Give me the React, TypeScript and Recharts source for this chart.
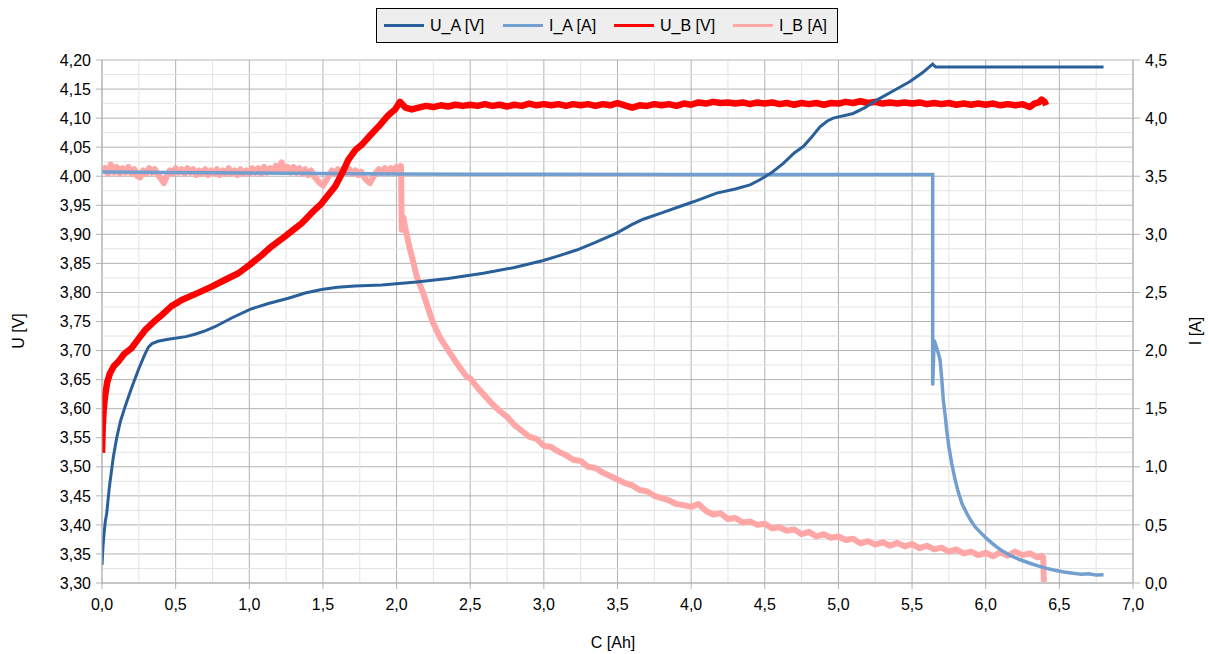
import { LineChart, Line, XAxis, YAxis, CartesianGrid, ReferenceLine } from 'recharts';

document.body.style.margin = '0';

// ticks
const cTicks = [0, 0.5, 1, 1.5, 2, 2.5, 3, 3.5, 4, 4.5, 5, 5.5, 6, 6.5, 7];
const uTicks = [3.3, 3.35, 3.4, 3.45, 3.5, 3.55, 3.6, 3.65, 3.7, 3.75, 3.8, 3.85, 3.9, 3.95, 4.0, 4.05, 4.1, 4.15, 4.2];
const iTicks = [0, 0.5, 1, 1.5, 2, 2.5, 3, 3.5, 4, 4.5];

// minor grid sits halfway between major ticks
const halves = (t: number[]) => t.slice(1).map((v, i) => (v + t[i]) / 2);
const cMinor = halves(cTicks);
const uMinor = halves(uTicks);

// U_A [V] : [C Ah, U V]
const uA: [number, number][] = [
  [0, 3.331], [0.006, 3.36], [0.014, 3.385], [0.022, 3.405], [0.032, 3.42], [0.05, 3.465], [0.077, 3.517],
  [0.1, 3.55], [0.125, 3.578], [0.156, 3.603], [0.2, 3.635], [0.247, 3.667], [0.29, 3.693], [0.315, 3.706],
  [0.34, 3.712], [0.38, 3.716], [0.44, 3.719], [0.496, 3.721], [0.57, 3.724], [0.631, 3.728], [0.7, 3.734],
  [0.767, 3.741], [0.88, 3.756], [1.005, 3.771], [1.13, 3.781], [1.265, 3.79], [1.38, 3.799], [1.49, 3.805],
  [1.6, 3.809], [1.718, 3.811], [1.9, 3.813], [2.136, 3.818], [2.35, 3.824], [2.589, 3.833], [2.8, 3.843],
  [2.996, 3.855], [3.1, 3.863], [3.223, 3.873], [3.35, 3.886], [3.494, 3.902], [3.6, 3.917], [3.675, 3.926],
  [3.8, 3.937], [3.947, 3.95], [4.015, 3.956], [4.173, 3.971], [4.3, 3.978], [4.4, 3.985], [4.467, 3.994],
  [4.55, 4.007], [4.626, 4.022], [4.7, 4.04], [4.761, 4.051], [4.82, 4.068], [4.875, 4.085], [4.925, 4.095],
  [4.965, 4.1], [5.1, 4.108], [5.18, 4.118], [5.26, 4.131], [5.38, 4.148], [5.486, 4.163], [5.57, 4.178],
  [5.64, 4.193], [5.66, 4.188], [6.0, 4.188], [6.5, 4.188], [6.8, 4.188],
];

// I_A [A]
const iA: [number, number][] = [
  [0, 3.537], [0.5, 3.532], [1.0, 3.527], [1.5, 3.523], [2.0, 3.52], [2.5, 3.517], [3.0, 3.516], [4.0, 3.515],
  [5.0, 3.515], [5.64, 3.515], [5.64, 1.7], [5.65, 2.09], [5.66, 2.05], [5.675, 1.99], [5.69, 1.92],
  [5.7, 1.78], [5.712, 1.575], [5.725, 1.44], [5.735, 1.317], [5.75, 1.17], [5.769, 1.03], [5.79, 0.9],
  [5.814, 0.78], [5.84, 0.68], [5.871, 0.6], [5.9, 0.535], [5.93, 0.48], [5.961, 0.44], [6.0, 0.39],
  [6.04, 0.345], [6.074, 0.31], [6.12, 0.27], [6.17, 0.235], [6.233, 0.2], [6.3, 0.17], [6.36, 0.145],
  [6.414, 0.126], [6.47, 0.11], [6.53, 0.095], [6.594, 0.083], [6.65, 0.076], [6.7, 0.08], [6.75, 0.068],
  [6.8, 0.07],
];

// U_B [V]
const uB: [number, number][] = [
  [0, 3.524], [0.005, 3.57], [0.012, 3.6], [0.02, 3.62], [0.035, 3.645], [0.054, 3.661], [0.08, 3.673],
  [0.111, 3.681], [0.15, 3.694], [0.2, 3.704], [0.25, 3.721], [0.292, 3.735], [0.35, 3.749], [0.405, 3.761],
  [0.47, 3.776], [0.541, 3.787], [0.64, 3.798], [0.745, 3.81], [0.83, 3.821], [0.926, 3.833], [1.0, 3.847],
  [1.084, 3.864], [1.15, 3.879], [1.22, 3.892], [1.29, 3.906], [1.356, 3.919], [1.42, 3.936], [1.49, 3.953],
  [1.54, 3.969], [1.582, 3.982], [1.63, 4.005], [1.672, 4.028], [1.72, 4.045], [1.763, 4.054], [1.82, 4.07],
  [1.876, 4.085], [1.944, 4.105], [1.99, 4.115], [2.023, 4.128], [2.06, 4.118], [2.103, 4.115],
  [2.15, 4.118], [2.2, 4.121], [2.25, 4.119], [2.3, 4.122], [2.35, 4.12], [2.4, 4.123], [2.45, 4.121],
  [2.5, 4.123], [2.55, 4.121], [2.6, 4.124], [2.65, 4.121], [2.7, 4.123], [2.75, 4.12], [2.8, 4.123],
  [2.85, 4.121], [2.9, 4.125], [2.95, 4.122], [3.0, 4.124], [3.05, 4.122], [3.1, 4.124], [3.15, 4.121],
  [3.2, 4.124], [3.25, 4.122], [3.3, 4.124], [3.35, 4.121], [3.4, 4.124], [3.45, 4.122], [3.5, 4.126],
  [3.55, 4.122], [3.6, 4.118], [3.65, 4.122], [3.7, 4.121], [3.75, 4.124], [3.8, 4.122], [3.85, 4.124],
  [3.9, 4.121], [3.95, 4.125], [4.0, 4.123], [4.05, 4.127], [4.1, 4.125], [4.15, 4.128], [4.2, 4.126],
  [4.25, 4.127], [4.3, 4.125], [4.35, 4.127], [4.4, 4.124], [4.45, 4.127], [4.5, 4.125], [4.55, 4.127],
  [4.6, 4.124], [4.65, 4.126], [4.7, 4.123], [4.75, 4.126], [4.8, 4.124], [4.85, 4.126], [4.9, 4.123],
  [4.95, 4.126], [5.0, 4.125], [5.05, 4.128], [5.1, 4.126], [5.15, 4.129], [5.2, 4.126], [5.25, 4.128],
  [5.3, 4.125], [5.35, 4.127], [5.4, 4.125], [5.45, 4.127], [5.5, 4.125], [5.55, 4.127], [5.6, 4.124],
  [5.65, 4.126], [5.7, 4.124], [5.75, 4.126], [5.8, 4.123], [5.85, 4.125], [5.9, 4.123], [5.95, 4.125],
  [6.0, 4.123], [6.05, 4.125], [6.1, 4.122], [6.15, 4.124], [6.2, 4.122], [6.25, 4.124], [6.3, 4.119],
  [6.33, 4.125], [6.36, 4.127], [6.38, 4.132], [6.4, 4.128], [6.41, 4.122],
];

// I_B [A]
const iB: [number, number][] = [
  [0, 3.54], [0.02, 3.57], [0.04, 3.52], [0.06, 3.6], [0.08, 3.53], [0.1, 3.58], [0.12, 3.52], [0.14, 3.57],
  [0.16, 3.53], [0.18, 3.58], [0.2, 3.52], [0.22, 3.56], [0.24, 3.5], [0.26, 3.49], [0.28, 3.55], [0.3, 3.52],
  [0.32, 3.57], [0.34, 3.53], [0.36, 3.56], [0.38, 3.51], [0.4, 3.48], [0.42, 3.44], [0.44, 3.5], [0.46, 3.55],
  [0.48, 3.52], [0.5, 3.57], [0.52, 3.53], [0.54, 3.56], [0.56, 3.52], [0.58, 3.57], [0.6, 3.53], [0.62, 3.56],
  [0.64, 3.51], [0.66, 3.55], [0.68, 3.52], [0.7, 3.56], [0.72, 3.51], [0.74, 3.55], [0.76, 3.52], [0.78, 3.56],
  [0.8, 3.51], [0.82, 3.55], [0.84, 3.52], [0.86, 3.57], [0.88, 3.52], [0.9, 3.55], [0.92, 3.51], [0.94, 3.56],
  [0.96, 3.52], [0.98, 3.55], [1.0, 3.52], [1.02, 3.57], [1.04, 3.53], [1.06, 3.57], [1.08, 3.52], [1.1, 3.58],
  [1.12, 3.53], [1.14, 3.57], [1.16, 3.54], [1.18, 3.59], [1.2, 3.55], [1.22, 3.62], [1.24, 3.55], [1.26, 3.58],
  [1.28, 3.53], [1.3, 3.58], [1.32, 3.53], [1.34, 3.57], [1.36, 3.52], [1.38, 3.56], [1.4, 3.51], [1.42, 3.55],
  [1.44, 3.5], [1.46, 3.47], [1.48, 3.44], [1.5, 3.42], [1.52, 3.46], [1.54, 3.5], [1.56, 3.55], [1.58, 3.52],
  [1.6, 3.56], [1.62, 3.52], [1.64, 3.57], [1.66, 3.53], [1.68, 3.56], [1.7, 3.52], [1.72, 3.55], [1.74, 3.51],
  [1.76, 3.54], [1.78, 3.49], [1.8, 3.46], [1.82, 3.44], [1.84, 3.49], [1.86, 3.53], [1.88, 3.56], [1.9, 3.53],
  [1.92, 3.57], [1.94, 3.53], [1.96, 3.57], [1.98, 3.54], [2.0, 3.58], [2.02, 3.55], [2.03, 3.59],
  [2.035, 3.04], [2.045, 3.15], [2.06, 3.05], [2.075, 2.96], [2.091, 2.87], [2.11, 2.78], [2.136, 2.64],
  [2.16, 2.56], [2.182, 2.49], [2.215, 2.36], [2.249, 2.235], [2.3, 2.1], [2.363, 1.977], [2.42, 1.87],
  [2.476, 1.775], [2.5, 1.76], [2.55, 1.68], [2.6, 1.61], [2.65, 1.54], [2.7, 1.48], [2.75, 1.43], [2.8, 1.36],
  [2.85, 1.31], [2.9, 1.26], [2.95, 1.24], [3.0, 1.18], [3.05, 1.17], [3.1, 1.13], [3.15, 1.1], [3.2, 1.06],
  [3.25, 1.05], [3.3, 1.0], [3.35, 0.99], [3.4, 0.95], [3.45, 0.92], [3.5, 0.89], [3.55, 0.86], [3.6, 0.84],
  [3.65, 0.8], [3.7, 0.79], [3.75, 0.75], [3.8, 0.73], [3.85, 0.71], [3.9, 0.68], [3.95, 0.67], [4.0, 0.655],
  [4.05, 0.68], [4.1, 0.62], [4.15, 0.59], [4.2, 0.6], [4.25, 0.55], [4.3, 0.56], [4.35, 0.52], [4.4, 0.53],
  [4.45, 0.5], [4.5, 0.51], [4.55, 0.47], [4.6, 0.48], [4.65, 0.45], [4.7, 0.46], [4.75, 0.42], [4.8, 0.44],
  [4.85, 0.4], [4.9, 0.42], [4.95, 0.39], [5.0, 0.4], [5.05, 0.37], [5.1, 0.38], [5.15, 0.34], [5.2, 0.36],
  [5.25, 0.33], [5.3, 0.35], [5.35, 0.32], [5.4, 0.345], [5.45, 0.315], [5.5, 0.335], [5.55, 0.3], [5.6, 0.32],
  [5.65, 0.29], [5.7, 0.305], [5.75, 0.27], [5.8, 0.29], [5.85, 0.255], [5.9, 0.27], [5.95, 0.24], [6.0, 0.26],
  [6.05, 0.23], [6.1, 0.265], [6.15, 0.235], [6.2, 0.27], [6.25, 0.24], [6.3, 0.255], [6.35, 0.22],
  [6.38, 0.235], [6.39, 0.22], [6.395, 0.01],
];

const toRows = (pts: [number, number][]) => pts.map(([c, v]) => ({ c, v }));

const series = [
  { name: 'U_A [V]', color: '#2a6099' },
  { name: 'I_A [A]', color: '#729fcf' },
  { name: 'U_B [V]', color: '#ff0000' },
  { name: 'I_B [A]', color: '#ffa6a6' },
];

const font = '"Liberation Sans", Arial, sans-serif';
const fmt = (digits: number) => (v: number) => v.toFixed(digits).replace('.', ',');
const tickStyle = { fill: '#000', fontSize: 16, fontFamily: font };
const axisGray = '#b3b3b3';
const minorGray = '#e3e3e3';

function LegendBox() {
  const offsets = [7, 126, 237, 356];
  return (
    <div
      style={{
        position: 'absolute', left: 376, top: 8, width: 462, height: 35, boxSizing: 'border-box',
        border: '1px solid #000', background: '#eeeeee', fontFamily: font, fontSize: 16, color: '#000',
      }}
    >
      {series.map((s, i) => (
        <div key={s.name} style={{ position: 'absolute', left: offsets[i], top: 0, height: 33, display: 'flex', alignItems: 'center' }}>
          <div style={{ width: 40, height: 3, background: s.color, marginRight: 6 }} />
          <span>{s.name}</span>
        </div>
      ))}
    </div>
  );
}

export default function App() {
  return (
    <div style={{ position: 'relative', width: 1209, height: 654, background: '#fff' }}>
      <LineChart width={1209} height={654} margin={{ top: 60, right: 0, bottom: 0, left: 0 }}>
        {cMinor.map((v) => (
          <ReferenceLine key={`cx${v}`} x={v} xAxisId="c" yAxisId="u" stroke={minorGray} />
        ))}
        {uMinor.map((v) => (
          <ReferenceLine key={`uy${v}`} y={v} xAxisId="c" yAxisId="u" stroke={minorGray} />
        ))}
        <CartesianGrid xAxisId="c" yAxisId="u" stroke={axisGray} />
        <XAxis
          xAxisId="c" dataKey="c" type="number" domain={[0, 7]} ticks={cTicks} tickFormatter={fmt(1)}
          height={71} tickSize={6} tickMargin={10} stroke={axisGray} tick={tickStyle} allowDataOverflow
          label={{
            content: () => (
              <text x={613} y={648} textAnchor="middle" fontSize={16} fontFamily={font} fill="#000">C [Ah]</text>
            ),
          }}
        />
        <YAxis
          yAxisId="u" type="number" domain={[3.3, 4.2]} ticks={uTicks} tickFormatter={fmt(2)}
          width={102} tickSize={6} tickMargin={5} stroke={axisGray} tick={tickStyle} allowDataOverflow
          label={{
            content: () => (
              <text x={24} y={331} transform="rotate(-90 24 331)" textAnchor="middle" fontSize={16} fontFamily={font} fill="#000">U [V]</text>
            ),
          }}
        />
        <YAxis
          yAxisId="i" orientation="right" type="number" domain={[0, 4.5]} ticks={iTicks} tickFormatter={fmt(1)}
          width={76} tickSize={7} tickMargin={5} stroke={axisGray} tick={tickStyle} allowDataOverflow
          label={{
            content: () => (
              <text x={1201} y={331} transform="rotate(-90 1201 331)" textAnchor="middle" fontSize={16} fontFamily={font} fill="#000">I [A]</text>
            ),
          }}
        />
        <Line data={toRows(iB)} dataKey="v" xAxisId="c" yAxisId="i" stroke={series[3].color} strokeWidth={6}
          dot={false} isAnimationActive={false} type="linear" strokeLinejoin="round" />
        <Line data={toRows(iA)} dataKey="v" xAxisId="c" yAxisId="i" stroke={series[1].color} strokeWidth={3.5}
          dot={false} isAnimationActive={false} type="linear" />
        <Line data={toRows(uB)} dataKey="v" xAxisId="c" yAxisId="u" stroke={series[2].color} strokeWidth={6.5}
          dot={false} isAnimationActive={false} type="linear" strokeLinejoin="round" />
        <Line data={toRows(uA)} dataKey="v" xAxisId="c" yAxisId="u" stroke={series[0].color} strokeWidth={3}
          dot={false} isAnimationActive={false} type="linear" />
      </LineChart>
      <LegendBox />
    </div>
  );
}
